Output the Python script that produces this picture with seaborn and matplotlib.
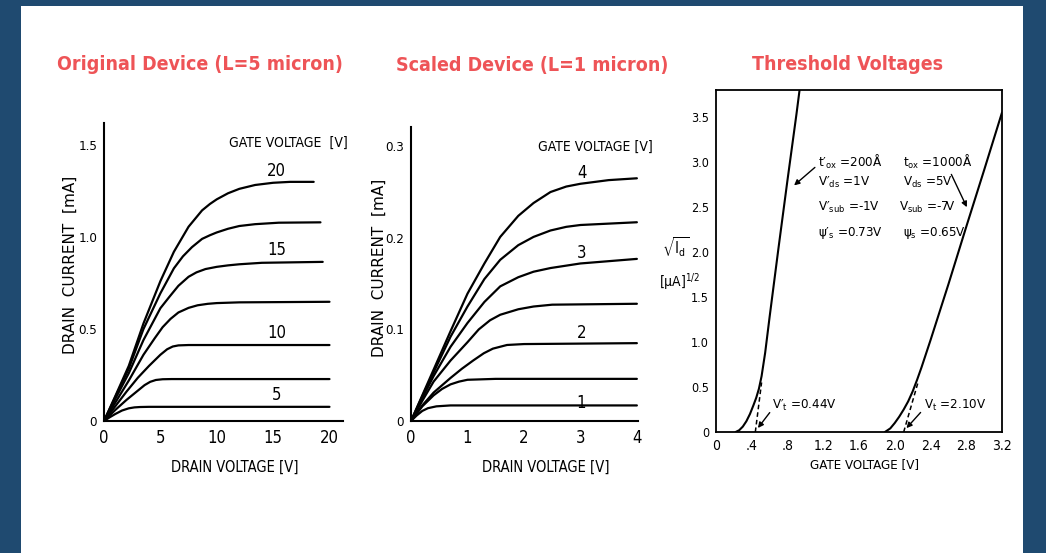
import numpy as np
import pandas as pd
import matplotlib
matplotlib.use("Agg")
import matplotlib.pyplot as plt
import seaborn as sns
from matplotlib.patches import Rectangle

W, H = 1046, 553

# --- original device, L = 5 micron: drain voltage [V] vs drain current [mA]
orig_gate = [20, 17.5, 15, 12.5, 10, 7.5, 5]
orig_vd = [
    [0, 1, 2.2, 3.5, 5, 6.2, 7.5, 8.7, 9.4, 10, 11, 12, 13.4, 15, 16.5, 18.6],
    [0, 1, 2.2, 3.5, 5, 6.2, 7, 7.8, 8.7, 9.4, 10, 11, 12, 13.4, 15.5, 19.2],
    [0, 1, 2.2, 3.5, 5, 5.8, 6.6, 7.5, 8.2, 9, 10, 11, 12, 14, 19.4],
    [0, 1, 2.2, 3.5, 4.5, 5.2, 5.9, 6.6, 7.5, 8.3, 9.2, 10, 12, 20],
    [0, 1, 2, 3, 4, 5, 5.6, 6.1, 6.6, 7.5, 20],
    [0, 1, 2, 3, 3.6, 4.1, 4.6, 5.2, 6, 20],
    [0, 0.5, 1, 1.6, 2.2, 2.7, 3.2, 4, 20],
]
orig_id = [
    [0, 0.135, 0.30, 0.53, 0.76, 0.92, 1.056, 1.145, 1.18, 1.205, 1.238, 1.262,
     1.283, 1.295, 1.30, 1.30],
    [0, 0.13, 0.285, 0.50, 0.694, 0.83, 0.895, 0.945, 0.99, 1.01, 1.025, 1.045,
     1.06, 1.07, 1.078, 1.08],
    [0, 0.12, 0.26, 0.44, 0.613, 0.675, 0.735, 0.784, 0.808, 0.826, 0.838, 0.846,
     0.852, 0.86, 0.865],
    [0, 0.10, 0.22, 0.36, 0.45, 0.51, 0.555, 0.59, 0.615, 0.629, 0.637, 0.641,
     0.645, 0.648],
    [0, 0.08, 0.16, 0.235, 0.30, 0.36, 0.39, 0.405, 0.411, 0.413, 0.413],
    [0, 0.06, 0.115, 0.165, 0.195, 0.213, 0.223, 0.227, 0.228, 0.228],
    [0, 0.02, 0.038, 0.057, 0.069, 0.074, 0.076, 0.077, 0.077],
]
orig_labels = ["20", "15", "10", "5"]
orig_label_y = [1.36, 0.93, 0.48, 0.14]

# --- scaled device, L = 1 micron
scaled_vd = [
    [0, 0.2, 0.4, 0.7, 1.0, 1.3, 1.58, 1.9, 2.17, 2.47, 2.75, 3, 3.5, 4],
    [0, 0.2, 0.4, 0.7, 1.0, 1.3, 1.58, 1.9, 2.17, 2.47, 2.75, 3, 4],
    [0, 0.2, 0.4, 0.7, 1.0, 1.3, 1.58, 1.9, 2.17, 2.47, 3, 4],
    [0, 0.2, 0.4, 0.7, 1.0, 1.2, 1.4, 1.58, 1.9, 2.17, 2.5, 4],
    [0, 0.2, 0.4, 0.7, 0.9, 1.1, 1.29, 1.45, 1.7, 2.0, 4],
    [0, 0.2, 0.4, 0.55, 0.7, 0.85, 1.0, 1.5, 4],
    [0, 0.1, 0.2, 0.3, 0.45, 0.7, 4],
]
scaled_id = [
    [0, 0.028, 0.056, 0.098, 0.139, 0.172, 0.201, 0.224, 0.238, 0.250, 0.256,
     0.259, 0.263, 0.265],
    [0, 0.027, 0.053, 0.092, 0.125, 0.155, 0.176, 0.192, 0.201, 0.208, 0.212,
     0.214, 0.217],
    [0, 0.025, 0.049, 0.081, 0.107, 0.130, 0.147, 0.157, 0.163, 0.167, 0.172, 0.177],
    [0, 0.022, 0.043, 0.066, 0.086, 0.100, 0.110, 0.116, 0.122, 0.125, 0.127, 0.128],
    [0, 0.017, 0.031, 0.047, 0.057, 0.066, 0.074, 0.079, 0.083, 0.084, 0.085],
    [0, 0.016, 0.028, 0.035, 0.040, 0.043, 0.045, 0.046, 0.046],
    [0, 0.006, 0.011, 0.014, 0.016, 0.017, 0.017],
]
scaled_labels = ["4", "3", "2", "1"]
scaled_label_y = [0.271, 0.183, 0.096, 0.020]

# --- threshold: gate voltage [V] vs sqrt(Id) [uA^1/2]
thr_scaled_vg = [0.22, 0.26, 0.30, 0.34, 0.38, 0.42, 0.45, 0.48, 0.51, 0.55,
                 0.60, 0.70, 0.80, 0.90, 0.935]
thr_scaled_sq = [0, 0.02, 0.06, 0.12, 0.20, 0.30, 0.38, 0.48, 0.62, 0.88,
                 1.28, 2.05, 2.80, 3.53, 3.8]
thr_orig_vg = [1.89, 1.95, 2.0, 2.05, 2.1, 2.15, 2.2, 2.25, 2.3, 2.4, 2.6, 2.8, 3.0, 3.2]
thr_orig_sq = [0, 0.04, 0.10, 0.17, 0.25, 0.34, 0.45, 0.58, 0.72, 1.02, 1.64,
               2.28, 2.91, 3.55]
vt_scaled = [0.44, 0.51]
vt_orig = [2.10, 2.26]
vt_sq = [0, 0.55]

TITLE_RED = "#ee5457"
BG_BLUE = "#1f4a70"

sns.set_style("white")
plt.rcParams["font.family"] = ["DejaVu Sans"]
plt.rcParams["font.stretch"] = "condensed"
plt.rcParams["mathtext.default"] = "regular"
plt.rcParams["mathtext.fontset"] = "dejavusans"

fig = plt.figure(figsize=(W / 100, H / 100), dpi=100, facecolor=BG_BLUE)
fig.patches.append(Rectangle((21 / W, 0), (1023 - 21) / W, 1 - 6 / H,
                             transform=fig.transFigure, facecolor="white",
                             edgecolor="none", zorder=-5))


def px_axes(x0, x1, y_top, y_bot):
    return fig.add_axes([x0 / W, 1 - y_bot / H, (x1 - x0) / W, (y_bot - y_top) / H])


def ftext(px, py, s, **kw):
    fig.text(px / W, 1 - py / H, s, **kw)


def style_iv(ax):
    ax.set_facecolor("none")
    for side in ["top", "right"]:
        ax.spines[side].set_visible(False)
    for side in ["left", "bottom"]:
        ax.spines[side].set_linewidth(1.5)
        ax.spines[side].set_color("black")
    ax.tick_params(axis="y", direction="out", length=4, width=1.2, labelsize=9.5, pad=1,
                   colors="black")
    ax.tick_params(axis="x", direction="in", length=7, width=1.2, labelsize=12, pad=6,
                   colors="black")


# panel 1
ax1 = px_axes(104, 343, 123, 421)
for vd, i_d in zip(orig_vd, orig_id):
    sns.lineplot(x=vd, y=i_d, ax=ax1, color="black", lw=1.6, sort=False, estimator=None)
ax1.set_xlim(0, 21.2)
ax1.set_ylim(0, 1.62)
ax1.set_xticks([0, 5, 10, 15, 20])
ax1.set_yticks([0, 0.5, 1.0, 1.5])
ax1.set_yticklabels(["0", "0.5", "1.0", "1.5"])
style_iv(ax1)
for lab, yv in zip(orig_labels, orig_label_y):
    ax1.text(15.3, yv, lab, ha="center", va="center", fontsize=12, color="black")
ftext(288, 143, "GATE VOLTAGE  [V]", ha="center", va="center", fontsize=10, color="black")
ftext(70, 265, "DRAIN  CURRENT  [mA]", ha="center", va="center", rotation=90,
      fontsize=11, color="black", fontstretch="normal")
ftext(235, 467, "DRAIN VOLTAGE [V]", ha="center", va="center", fontsize=10.5, color="black")

# panel 2
ax2 = px_axes(411, 638, 127, 421)
for vd, i_d in zip(scaled_vd, scaled_id):
    sns.lineplot(x=vd, y=i_d, ax=ax2, color="black", lw=1.6, sort=False, estimator=None)
ax2.set_xlim(0, 4.02)
ax2.set_ylim(0, 0.321)
ax2.set_xticks([0, 1, 2, 3, 4])
ax2.set_yticks([0, 0.1, 0.2, 0.3])
ax2.set_yticklabels(["0", "0.1", "0.2", "0.3"])
style_iv(ax2)
for lab, yv in zip(scaled_labels, scaled_label_y):
    ax2.text(3.02, yv, lab, ha="center", va="center", fontsize=12, color="black")
ftext(595, 147, "GATE VOLTAGE [V]", ha="center", va="center", fontsize=10, color="black")
ftext(379, 268, "DRAIN  CURRENT  [mA]", ha="center", va="center", rotation=90,
      fontsize=11, color="black", fontstretch="normal")
ftext(546, 467, "DRAIN VOLTAGE [V]", ha="center", va="center", fontsize=10.5, color="black")

# panel 3
ax3 = px_axes(716, 1002, 90, 432)
sns.lineplot(x=thr_scaled_vg, y=thr_scaled_sq, ax=ax3, color="black", lw=1.5,
             sort=False, estimator=None)
sns.lineplot(x=thr_orig_vg, y=thr_orig_sq, ax=ax3, color="black", lw=1.5,
             sort=False, estimator=None)
ax3.plot(vt_scaled, vt_sq, color="black", lw=1.1, ls=(0, (3, 2)))
ax3.plot(vt_orig, vt_sq, color="black", lw=1.1, ls=(0, (3, 2)))
ax3.set_xlim(0, 3.2)
ax3.set_ylim(0, 3.8)
ax3.set_xticks([0, 0.4, 0.8, 1.2, 1.6, 2.0, 2.4, 2.8, 3.2])
ax3.set_xticklabels(["0", ".4", ".8", "1.2", "1.6", "2.0", "2.4", "2.8", "3.2"])
ax3.set_yticks([0, 0.5, 1.0, 1.5, 2.0, 2.5, 3.0, 3.5])
ax3.set_yticklabels(["0", "0.5", "1.0", "1.5", "2.0", "2.5", "3.0", "3.5"])
ax3.set_facecolor("none")
for sp in ax3.spines.values():
    sp.set_linewidth(1.3)
    sp.set_color("black")
ax3.tick_params(axis="y", direction="out", length=4, width=1.1, labelsize=9, pad=1,
                colors="black")
ax3.tick_params(axis="x", direction="in", length=5, width=1.1, labelsize=10, pad=5,
                colors="black")

txt = dict(fontsize=9.5, va="center", ha="left", color="black")
ax3.text(1.14, 3.00, r"$t′_{ox}$ =200Å", **txt)
ax3.text(1.14, 2.77, r"$V′_{ds}$ =1V", **txt)
ax3.text(1.14, 2.49, r"$V′_{sub}$ =-1V", **txt)
ax3.text(1.14, 2.21, r"$\psi′_{s}$ =0.73V", **txt)
ax3.text(2.09, 3.00, r"$t_{ox}$ =1000Å", **txt)
ax3.text(2.09, 2.77, r"$V_{ds}$ =5V", **txt)
ax3.text(2.05, 2.49, r"$V_{sub}$ =-7V", **txt)
ax3.text(2.09, 2.21, r"$\psi_s$ =0.65V", **txt)
ax3.text(0.63, 0.30, r"$V′_t$ =0.44V", **txt)
ax3.text(2.33, 0.30, r"$V_t$ =2.10V", **txt)
arrow = dict(arrowstyle="-|>", color="black", lw=1.0, mutation_scale=8)
ax3.annotate("", xy=(0.85, 2.72), xytext=(1.13, 2.96), arrowprops=arrow)
ax3.annotate("", xy=(2.82, 2.47), xytext=(2.62, 2.89), arrowprops=arrow)
ax3.annotate("", xy=(0.45, 0.02), xytext=(0.62, 0.24), arrowprops=arrow)
ax3.annotate("", xy=(2.11, 0.02), xytext=(2.31, 0.24), arrowprops=arrow)
ftext(676, 247, r"$\sqrt{I_d}$", ha="center", va="center", fontsize=11, color="black")
ftext(680, 282, r"$[\mu A]^{1/2}$", ha="center", va="center", fontsize=10, color="black")
ftext(865, 465, "GATE VOLTAGE [V]", ha="center", va="center", fontsize=9.5, color="black")

# slide titles
title_kw = dict(ha="center", va="center", fontsize=14, weight="bold",
                color=TITLE_RED)
ftext(200, 65, "Original Device (L=5 micron)", **title_kw)
ftext(532, 65, "Scaled Device (L=1 micron)", **title_kw)
ftext(848, 65, "Threshold Voltages", **title_kw)

fig.savefig("out.png", dpi=100, facecolor=fig.get_facecolor())
